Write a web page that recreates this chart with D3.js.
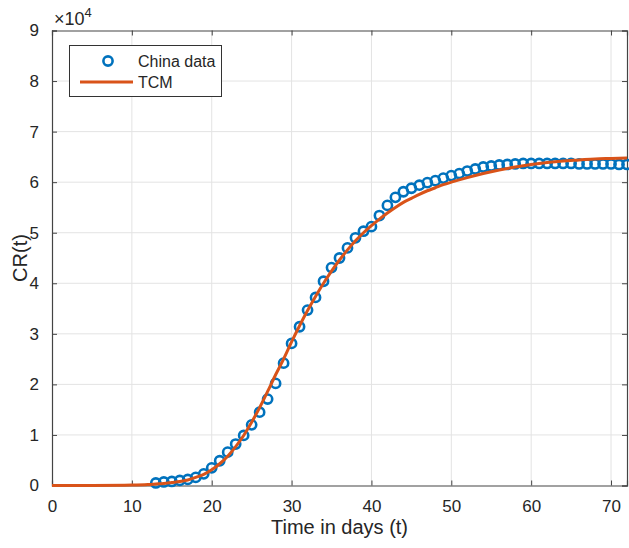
<!DOCTYPE html>
<html>
<head>
<meta charset="utf-8">
<script src="https://cdn.jsdelivr.net/npm/d3@7"></script>
<style>
  body { margin: 0; background: #fff; }
  text { font-family: "Liberation Sans", Arial, sans-serif; fill: #262626; }
</style>
</head>
<body>
<div id="vis"></div>
<script>
// China data (days 13..72), cumulative counts
const chinaDays = d3.range(13, 73);
const chinaValues = [
  500, 700, 800, 1000, 1200, 1600, 2300, 3500, 4900, 6600,
  8200, 9900, 12000, 14500, 17100, 20200, 24200, 28100, 31400, 34700,
  37200, 40400, 43100, 45000, 47000, 49000, 50300, 51200, 53400, 55400,
  57000, 58100, 58800, 59400, 59900, 60300, 60800, 61300, 61700, 62200,
  62600, 63000, 63200, 63400, 63500, 63600, 63700, 63700, 63700, 63700,
  63700, 63700, 63700, 63600, 63600, 63600, 63600, 63600, 63500, 63500
];

// TCM model curve
const tcmDays = [0, 5, 10, 12, 13, 14, 15, 16, 17, 18, 19, 20, 21, 22, 23, 24, 25, 26, 27, 28,
  29, 30, 31, 32, 33, 34, 35, 36, 37, 38, 39, 40, 41, 42, 43, 44, 45, 46, 47, 48,
  49, 50, 52, 54, 56, 58, 60, 62, 64, 66, 68, 70, 72];
const tcmValues = [0, 20, 100, 200, 300, 400, 600, 800, 1100, 1600, 2200, 3100, 4300, 5800, 7700, 9900, 12500, 15400, 18600, 21900,
  25000, 28400, 31600, 34600, 37400, 40000, 42400, 44600, 46600, 48400, 50000, 51400, 52700, 53900, 55000, 56000, 56800, 57600, 58300, 58900,
  59500, 60000, 60900, 61700, 62400, 63000, 63500, 63900, 64200, 64400, 64600, 64700, 64800];

const xTicks = [0, 10, 20, 30, 40, 50, 60, 70];
const yTicks = d3.range(0, 90001, 10000);

const WIDTH = 629;
const HEIGHT = 548;
const margin = { top: 30.5, bottom: 62.5, left: 52, right: 2 };
const WIDTHVIS = WIDTH - margin.left - margin.right;
const HEIGHTVIS = HEIGHT - margin.top - margin.bottom;

const blue = "#0072BD";
const red = "#D95319";

const svg = d3.select("#vis").append("svg")
  .attr("width", WIDTH).attr("height", HEIGHT);

const g = svg.append("g").attr("transform", `translate(${margin.left},${margin.top})`);

const escalaX = d3.scaleLinear().domain([0, 72]).range([0, WIDTHVIS]);
const escalaY = d3.scaleLinear().domain([0, 90000]).range([HEIGHTVIS, 0]);

// grid
g.append("g").selectAll("line").data(xTicks.filter(d => d > 0)).join("line")
  .attr("x1", d => escalaX(d)).attr("x2", d => escalaX(d))
  .attr("y1", 0).attr("y2", HEIGHTVIS)
  .attr("stroke", "#e3e3e3").attr("stroke-width", 1);
g.append("g").selectAll("line").data(yTicks.filter(d => d > 0 && d < 90000)).join("line")
  .attr("y1", d => escalaY(d)).attr("y2", d => escalaY(d))
  .attr("x1", 0).attr("x2", WIDTHVIS)
  .attr("stroke", "#e3e3e3").attr("stroke-width", 1);

// axes (ticks inward, MATLAB-ish box)
const ejeX = d3.axisBottom(escalaX).tickValues(xTicks).tickSize(-5).tickPadding(14);
const ejeY = d3.axisLeft(escalaY).tickValues(yTicks).tickFormat(d => d / 10000).tickSize(-5).tickPadding(13);
const ejeXTop = d3.axisTop(escalaX).tickValues(xTicks).tickSize(-5).tickFormat("");
const ejeYRight = d3.axisRight(escalaY).tickValues(yTicks).tickSize(-5).tickFormat("");

function estilo(sel) {
  sel.select(".domain").attr("stroke", "#444").attr("stroke-width", 1.2);
  sel.selectAll(".tick line").attr("stroke", "#444");
  sel.selectAll(".tick text").style("font-size", "17px").attr("fill", "#303030");
}
g.append("g").attr("transform", `translate(0,${HEIGHTVIS})`).call(ejeX).call(estilo);
g.append("g").call(ejeY).call(estilo);
g.append("g").call(ejeXTop).call(estilo);
g.append("g").attr("transform", `translate(${WIDTHVIS},0)`).call(ejeYRight).call(estilo);

// data markers
g.append("g").selectAll("circle").data(chinaDays).join("circle")
  .attr("cx", (d) => escalaX(d))
  .attr("cy", (d, i) => escalaY(chinaValues[i]))
  .attr("r", 4.6)
  .attr("fill", "none")
  .attr("stroke", blue)
  .attr("stroke-width", 2.6);

// model line
const linea = d3.line()
  .x((d) => escalaX(d[0]))
  .y((d) => escalaY(d[1]))
  .curve(d3.curveMonotoneX);
g.append("path")
  .datum(tcmDays.map((d, i) => [d, tcmValues[i]]))
  .attr("d", linea)
  .attr("fill", "none")
  .attr("stroke", red)
  .attr("stroke-width", 3);

// exponent
const expo = svg.append("text").attr("x", 54).attr("y", 25).style("font-size", "18px");
expo.append("tspan").text("\u00d710");
expo.append("tspan").attr("dy", -8).style("font-size", "13px").text("4");

// axis labels
svg.append("text")
  .attr("x", margin.left + WIDTHVIS / 2).attr("y", 534)
  .attr("text-anchor", "middle").style("font-size", "20px")
  .text("Time in days (t)");
svg.append("text")
  .attr("transform", `translate(27,${margin.top + HEIGHTVIS / 2}) rotate(-90)`)
  .attr("text-anchor", "middle").style("font-size", "20px")
  .text("CR(t)");

// legend
const leg = svg.append("g");
leg.append("rect").attr("x", 69.5).attr("y", 45.5).attr("width", 152).attr("height", 51)
  .attr("fill", "#fff").attr("stroke", "#333").attr("stroke-width", 1);
leg.append("circle").attr("cx", 108).attr("cy", 61).attr("r", 4.6)
  .attr("fill", "none").attr("stroke", blue).attr("stroke-width", 2.6);
leg.append("text").attr("x", 138).attr("y", 67).style("font-size", "16px").text("China data");
leg.append("line").attr("x1", 80).attr("x2", 133).attr("y1", 82).attr("y2", 82)
  .attr("stroke", red).attr("stroke-width", 3);
leg.append("text").attr("x", 138).attr("y", 88).style("font-size", "16px").text("TCM");
</script>
</body>
</html>
